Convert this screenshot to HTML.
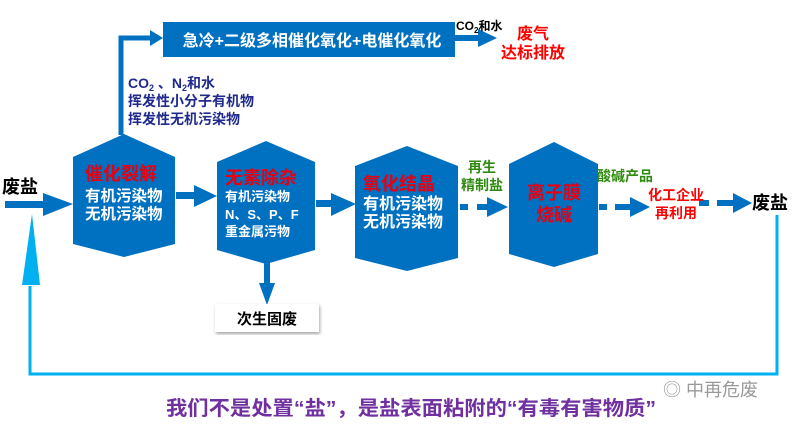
<!DOCTYPE html>
<html><head><meta charset="utf-8"><style>
body{margin:0;background:#fff;}
svg{display:block;font-family:"Liberation Sans","Noto Sans CJK SC",sans-serif;font-weight:bold;}
</style></head><body>
<svg width="800" height="426" viewBox="0 0 800 426">
<defs><filter id="sh"><feDropShadow dx="1" dy="2" stdDeviation="1.5" flood-opacity="0.35"/></filter></defs>
<rect x="163" y="22" width="292" height="35" fill="#0070c0"/>
<text x="312" y="46" fill="#fff" font-size="16" text-anchor="middle">急冷+二级多相催化氧化+电催化氧化</text>
<polyline points="121,135 121,38 150,38" fill="none" stroke="#0070c0" stroke-width="5"/>
<polygon points="150,30 163,38 150,46" fill="#0070c0"/>
<rect x="455" y="35" width="25" height="6" fill="#0070c0"/>
<polygon points="478,29 497,38 478,47" fill="#0070c0"/>
<text x="456" y="30" font-size="12" fill="#000">CO<tspan font-size="8" dy="3">2</tspan><tspan dy="-3">和水</tspan></text>
<text x="533" y="39" font-size="16" fill="#ff0000" text-anchor="middle">废气</text>
<text x="533" y="58" font-size="16" fill="#ff0000" text-anchor="middle">达标排放</text>
<g fill="#1f2a8c" font-size="14">
<text x="128" y="88">CO<tspan font-size="9" dy="3">2</tspan><tspan dy="-3"> 、N</tspan><tspan font-size="9" dy="3">2</tspan><tspan dy="-3">和水</tspan></text>
<text x="128" y="106">挥发性小分子有机物</text>
<text x="128" y="124">挥发性无机污染物</text>
</g>
<text x="2" y="193" font-size="18" fill="#000">废盐</text>
<rect x="5" y="201" width="40" height="7" fill="#0070c0"/>
<polygon points="43,193 73,204 43,216" fill="#0070c0"/>
<polygon points="124,134 175,157 175,244 124,257 73,244 73,157" fill="#0070c0"/>
<polygon points="266,141 315,162 315,250 266,264 217,250 217,162" fill="#0070c0"/>
<polygon points="407,146 458,166 458,258 407,271 355,258 355,166" fill="#0070c0"/>
<polygon points="554,142 598,164 598,254 554,267 509,254 509,164" fill="#0070c0"/>
<rect x="176" y="192" width="20" height="7" fill="#0070c0"/>
<polygon points="194,185 217,196 194,207" fill="#0070c0"/>
<rect x="316" y="200" width="17" height="7" fill="#0070c0"/>
<polygon points="331,193 356,204 331,216" fill="#0070c0"/>
<rect x="460" y="204" width="8" height="6" fill="#0070c0"/>
<rect x="477" y="204" width="12" height="6" fill="#0070c0"/>
<polygon points="487,197 508,207 487,217" fill="#0070c0"/>
<rect x="599" y="204" width="8" height="6" fill="#0070c0"/>
<rect x="615" y="204" width="18" height="6" fill="#0070c0"/>
<polygon points="630,197 650,207 630,217" fill="#0070c0"/>
<rect x="699" y="200" width="10" height="6" fill="#0070c0"/>
<rect x="717" y="200" width="18" height="6" fill="#0070c0"/>
<polygon points="733,193 752,203 733,213" fill="#0070c0"/>
<text x="752" y="209" font-size="18" fill="#000">废盐</text>
<text x="85" y="180" font-size="18" fill="#e60012">催化裂解</text>
<g fill="#fff" font-size="15.5"><text x="85" y="201">有机污染物</text><text x="85" y="219">无机污染物</text></g>
<text x="225" y="184" font-size="18" fill="#e60012">无素除杂</text>
<g fill="#fff" font-size="13"><text x="225" y="201">有机污染物</text><text x="225" y="219">N、S、P、F</text><text x="225" y="236">重金属污物</text></g>
<text x="363" y="190" font-size="18" fill="#e60012">氧化结晶</text>
<g fill="#fff" font-size="16"><text x="363" y="209">有机污染物</text><text x="363" y="227">无机污染物</text></g>
<text x="554" y="199" font-size="18" fill="#e60012" text-anchor="middle">离子膜</text>
<text x="554" y="221" font-size="18" fill="#e60012" text-anchor="middle">烧碱</text>
<g fill="#2e8b10" font-size="14"><text x="482" y="172" text-anchor="middle">再生</text><text x="482" y="190" text-anchor="middle">精制盐</text><text x="597" y="181">酸碱产品</text></g>
<g fill="#ff0000" font-size="14"><text x="676" y="200" text-anchor="middle">化工企业</text><text x="676" y="218" text-anchor="middle">再利用</text></g>
<rect x="264" y="263" width="6" height="22" fill="#0070c0"/>
<polygon points="259,283 275,283 267,305" fill="#0070c0"/>
<rect x="215" y="304" width="104" height="28" fill="#fff" filter="url(#sh)"/>
<text x="267" y="324" font-size="15" fill="#000" text-anchor="middle">次生固废</text>
<polyline points="777,215 777,374 30,374 30,286" fill="none" stroke="#00b0f0" stroke-width="3"/>
<polygon points="22,285 40,285 32,214" fill="#00b0f0"/>
<text x="411" y="415" font-size="20" fill="#7030a0" text-anchor="middle" textLength="490" lengthAdjust="spacingAndGlyphs">我们不是处置“盐”，是盐表面粘附的“有毒有害物质”</text>
<text x="663" y="396" font-size="18" fill="#999" font-weight="normal">◎ 中再危废</text>
</svg>
</body></html>
